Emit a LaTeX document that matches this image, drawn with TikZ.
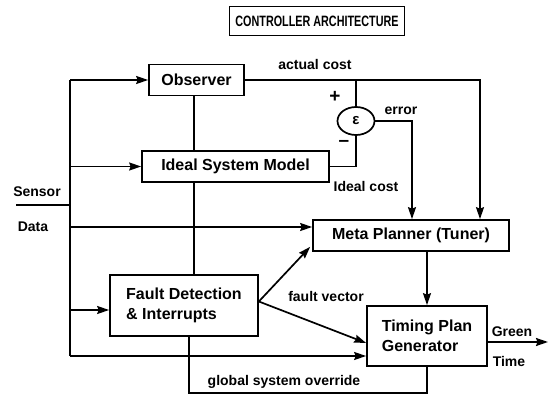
\documentclass[tikz,border=0pt]{standalone}
\usepackage{fontspec}
\setmainfont{Liberation Sans}
\newfontfamily\titlefont[FakeStretch=0.72]{Liberation Sans}
\usetikzlibrary{
    arrows.meta,
    positioning,
    shapes.geometric
}

\begin{document}
\begin{tikzpicture}[
        x=1pt, y=-1pt,
        >={Stealth[length=12pt,width=8pt,inset=1.5pt]},
        line width=1.7pt,
        block/.style={
            draw,
            rectangle,
            inner sep=0pt,
            align=left,
            font=\fontsize{16}{20}\selectfont\bfseries
        },
        lbl/.style={
            inner sep=0pt,
            font=\fontsize{14}{17}\selectfont\bfseries
        },
        sign/.style={
            inner sep=0pt,
            font=\fontsize{19}{21}\selectfont\bfseries
        }
    ]
    \useasboundingbox (0,0) rectangle (550,395);

    % boxes
    \node[block, minimum width=175pt, minimum height=29pt, font=\titlefont\fontsize{15}{17}\selectfont\bfseries] (title) at (317,21) {CONTROLLER ARCHITECTURE};
    \node[block, minimum width=95pt, minimum height=31pt] (obs) at (196.5,80) {Observer};
    \node[block, minimum width=187pt, minimum height=31pt] (ism) at (235.5,166.5) {Ideal System Model};
    \node[block, minimum width=196pt, minimum height=31pt] (meta) at (411,235.5) {Meta Planner (Tuner)};
    \node[block, minimum width=148pt, minimum height=61pt] (fd) at (184,305.5) {Fault Detection\\\& Interrupts};
    \node[block, minimum width=120pt, minimum height=60pt] (tpg) at (427,336) {Timing Plan\\Generator};
    \node[draw, ellipse, minimum width=37pt, minimum height=28pt, inner sep=0pt, font=\fontsize{15}{17}\selectfont\bfseries] (sum) at (356,121) {ε};

    % junction points
    \coordinate (bustop) at (70,80);
    \coordinate (busbot) at (70,356);
    \coordinate (sensor) at (16,205);
    \coordinate (datain) at (70,227);
    \coordinate (fdin) at (70,310);
    \coordinate (vert) at (194,0);
    \coordinate (ac) at (480,80);
    \coordinate (err) at (412,121);
    \coordinate (ovr) at (189,393);
    \coordinate (out) at (548,342);
    \coordinate (fv) at ([yshift=4pt]fd.east);

    % sensor bus
    \draw (sensor) -- (sensor -| bustop);
    \draw (bustop) -- (busbot);
    \draw[->] (bustop) -- (obs.west);
    \draw[->] (bustop |- ism.west) -- (ism.west);
    \draw[->] (datain) -- (datain -| meta.west);
    \draw[->] (fdin) -- (fdin -| fd.west);
    \draw[->] (busbot) -- (busbot -| tpg.west);

    \draw (obs.south -| vert) -- (ism.north -| vert);
    \draw (ism.south -| vert) -- (fd.north -| vert);

    % costs
    \draw[->] (obs.east) -- (ac) -- (ac |- meta.north);
    \draw (sum.north) -- (sum.north |- obs.east);
    \draw (sum.south) -- (sum.south |- ism.east) -- (ism.east);
    \draw[->] (sum.east) -- (err) -- (err |- meta.north);
    \draw[->] (tpg.north |- meta.south) -- (tpg.north);

    % fault vector
    \draw[->] (fv) -- ([xshift=-2pt,yshift=5pt]meta.south west);
    \draw[->] (fv) -- ([yshift=-7pt]tpg.west);

    % override and output
    \draw (fd.south -| ovr) -- (ovr) -- (ovr -| tpg.south) -- (tpg.south);
    \draw[->] (out -| tpg.east) -- (out);

    % labels
    \node[lbl] (actual) at (315,64) {actual cost};
    \node[sign] (plus) at (335,97) {+};
    \node[sign] (minus) at (344,143) {–};
    \node[lbl] (error) at (401,111) {error};
    \node[lbl] (ideal) at (366,186) {Ideal cost};
    \node[lbl] (fault) at (326,296) {fault vector};
    \node[lbl] (sens) at (37,192) {Sensor};
    \node[lbl] (data) at (33,227) {Data};
    \node[lbl] (green) at (512,332) {Green};
    \node[lbl] (time) at (509,361) {Time};
    \node[lbl] (override) at (284,382) {global system override};

\end{tikzpicture}
\end{document}
